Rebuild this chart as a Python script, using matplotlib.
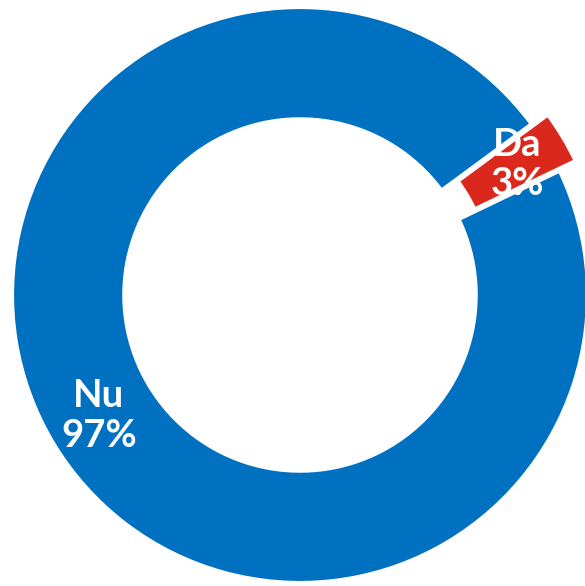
import numpy as np
import matplotlib.pyplot as plt

# -------------------- data --------------------
labels = ["Da", "Nu"]
values = [3, 97]
colors = ["#DA291C", "#0071C1"]
explode = [0.065, 0]

# -------------------- plot --------------------
fig = plt.figure(figsize=(5.85, 5.86), dpi=100)
ax = fig.add_axes([0, 0, 1, 1])

ring_width = 0.39
wedges, _ = ax.pie(values, colors=colors, explode=explode, startangle=25.6,
                   counterclock=True, radius=1.0,
                   wedgeprops=dict(width=ring_width, edgecolor="white", linewidth=3))

# labels in the middle of the ring, moved with the exploded slice
for w, lab, val, ex in zip(wedges, labels, values, explode):
    ang = np.deg2rad((w.theta1 + w.theta2) / 2)
    r = 1.0 - ring_width / 2 + ex + 0.01
    ax.text(r * np.cos(ang), r * np.sin(ang), f"{lab}\n{val}%",
            ha="center", va="center", color="white", fontsize=27.5,
            fontfamily="Lato", fontweight="bold", linespacing=1.2)

# centre sits at (300, 295) px with a 288 px radius; the right edge is cut
ax.set_xlim(-300 / 288, 285 / 288)
ax.set_ylim(-291 / 288, 295 / 288)
ax.set_aspect("auto")
ax.axis("off")

plt.savefig("out.png", dpi=100)
